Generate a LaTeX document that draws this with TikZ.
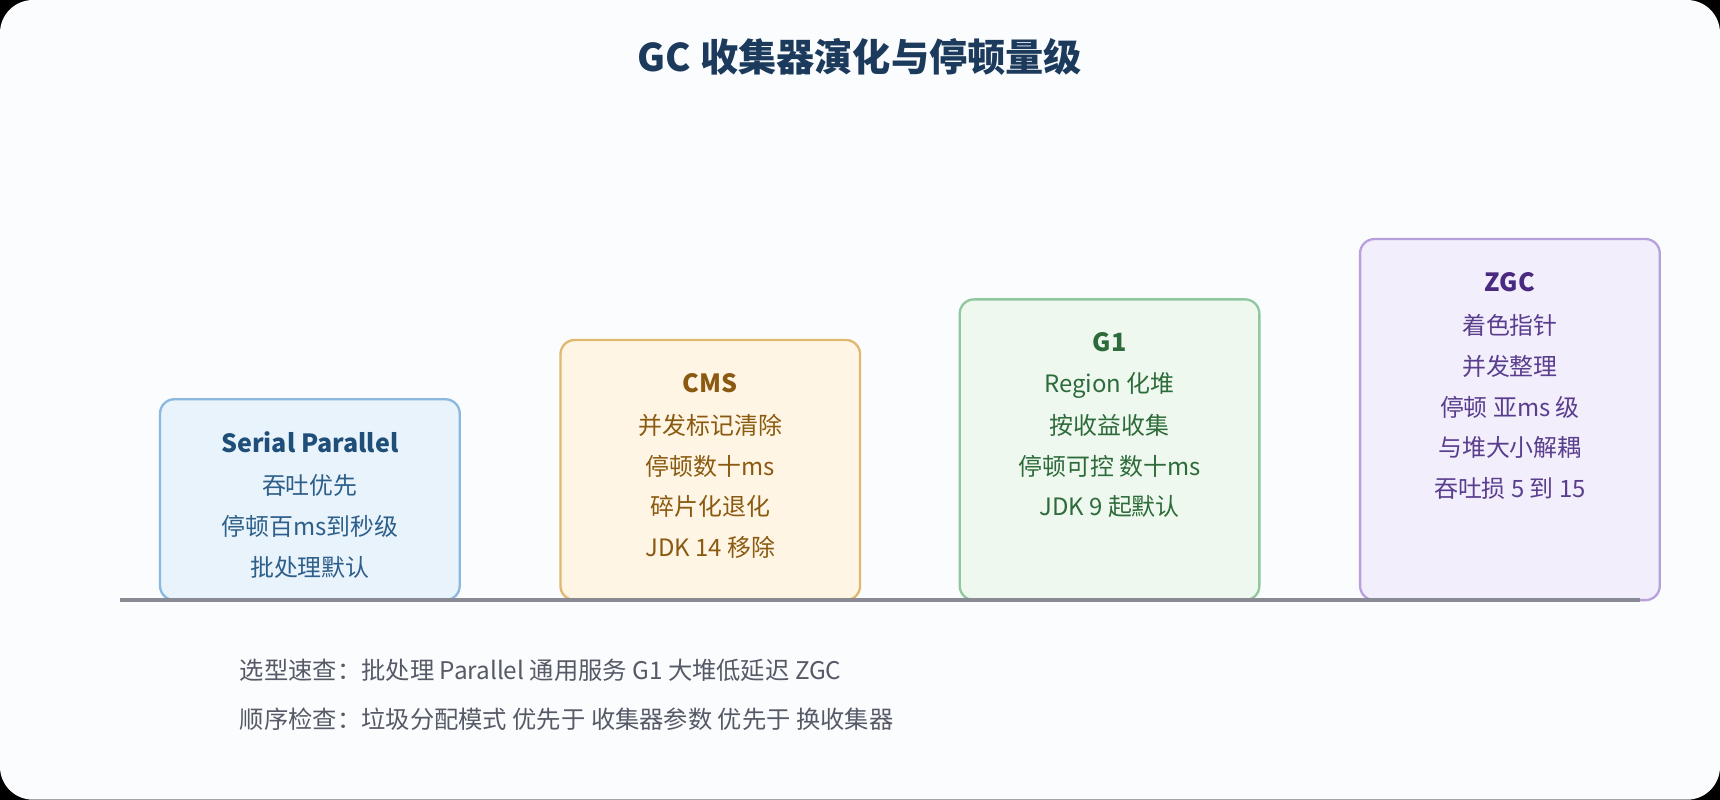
\documentclass[tikz,border=0pt]{standalone}
\usepackage{fontspec}
\setmainfont{Noto Sans CJK SC}
\usetikzlibrary{positioning}
\definecolor{cardbg}{HTML}{FBFCFE}
\definecolor{titleblue}{HTML}{1C3A5C}
\definecolor{axisgray}{HTML}{8A8A95}
\definecolor{notegray}{HTML}{555A66}
\definecolor{serialfill}{HTML}{E8F3FC}
\definecolor{serialdraw}{HTML}{8AB8DE}
\definecolor{serialtext}{HTML}{2E5F8A}
\definecolor{serialhead}{HTML}{1F4E79}
\definecolor{cmsfill}{HTML}{FFF5E5}
\definecolor{cmsdraw}{HTML}{E0B870}
\definecolor{cmstext}{HTML}{8A5A10}
\definecolor{gonefill}{HTML}{EEF8EE}
\definecolor{gonedraw}{HTML}{8FC8A0}
\definecolor{gonetext}{HTML}{2E6B3A}
\definecolor{zgcfill}{HTML}{F3EEFB}
\definecolor{zgcdraw}{HTML}{B8A0DC}
\definecolor{zgctext}{HTML}{5A3E8E}
\definecolor{zgchead}{HTML}{4A2A80}
\begin{document}
\begin{tikzpicture}[x=0.01cm, y=-0.01cm,
	gcbox/.style={draw, rounded corners=1.3mm, line width=0.6pt},
	gctitle/.style={font=\fontsize{6.5pt}{8pt}\selectfont\bfseries},
	gcline/.style={font=\fontsize{6.2pt}{7pt}\selectfont},
	noteline/.style={anchor=west, inner sep=0pt, text=notegray, font=\fontsize{6.3pt}{7pt}\selectfont}
	]
	\fill[black] (0,0) rectangle (1568,729);
	\fill[cardbg, rounded corners=3mm] (0,0) rectangle (1568,729);
	\node[text=titleblue, font=\fontsize{9.9pt}{11pt}\selectfont\bfseries] (title) at (784,52) {GC 收集器演化与停顿量级};
	
	% boxes
	\node[gcbox, draw=serialdraw, fill=serialfill, minimum width=2.73cm, minimum height=1.83cm] (serial) at (282.5,455.5) {};
	\node[gcbox, draw=cmsdraw, fill=cmsfill, minimum width=2.73cm, minimum height=2.37cm] (cms) at (647.5,428.5) {};
	\node[gcbox, draw=gonedraw, fill=gonefill, minimum width=2.73cm, minimum height=2.74cm] (g1) at (1011.5,410) {};
	\node[gcbox, draw=zgcdraw, fill=zgcfill, minimum width=2.73cm, minimum height=3.29cm] (zgc) at (1376.5,382.5) {};
	\draw[axisgray, line width=1.2pt] (109,547) coordinate (axisL) -- (1495,547) coordinate (axisR);
	
	\node[gctitle, text=serialhead] (serialT) at (282.5,403) {Serial Parallel};
	\foreach \t [count=\i] in {吞吐优先, 停顿百ms到秒级, 批处理默认}
		\node[gcline, text=serialtext] at (282.5,406+37*\i) {\t};
	
	\node[gctitle, text=cmstext] (cmsT) at (647.5,349) {CMS};
	\foreach \t [count=\i] in {并发标记清除, 停顿数十ms, 碎片化退化, JDK 14 移除}
		\node[gcline, text=cmstext] at (647.5,351+37*\i) {\t};
	
	\node[gctitle, text=gonetext] (g1T) at (1011.5,312) {G1};
	\foreach \t [count=\i] in {Region 化堆, 按收益收集, 停顿可控 数十ms, JDK 9 起默认}
		\node[gcline, text=gonetext] at (1011.5,314+37*\i) {\t};
	
	\node[gctitle, text=zgchead] (zgcT) at (1376.5,257) {ZGC};
	\foreach \t [count=\i] in {着色指针, 并发整理, 停顿 亚ms 级, 与堆大小解耦, 吞吐损 5 到 15}
		\node[gcline, text=zgctext] at (1376.5,260+37*\i) {\t};
	
	% footer
	\node[noteline] (pick) at (218,611) {选型速查：批处理 Parallel 通用服务 G1 大堆低延迟 ZGC};
	\node[noteline] (order) at (218,656) {顺序检查：垃圾分配模式 优先于 收集器参数 优先于 换收集器};
\end{tikzpicture}
\end{document}
